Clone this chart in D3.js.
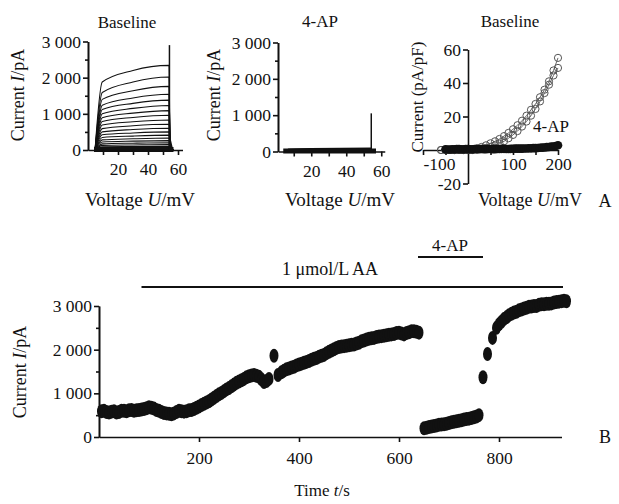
<!DOCTYPE html>
<html>
<head>
<meta charset="utf-8">
<script src="https://cdn.jsdelivr.net/npm/d3@7"></script>
<style>
  body { margin: 0; background: #fff; }
  svg text { font-family: "Liberation Serif", "Times New Roman", serif; fill: #111; }
  .axis path, .axis line { stroke: #111; stroke-width: 1.6; }
  .axis text { font-size: 17.5px; }
</style>
</head>
<body>
<svg id="chart"></svg>
<script>
// Panel A, traces at baseline: value at knee, at 30 mV and at end of step (pA)
var baseKnee = [1880, 1590, 1400, 1240, 1120, 1000, 890, 790, 690, 590, 500, 420, 345, 280, 220, 170, 128, 90, 60, 34, 17];
var baseMid  = [2200, 1880, 1640, 1440, 1290, 1150, 1020, 900, 780, 670, 565, 470, 385, 310, 245, 188, 140, 98, 65, 37, 18];
var baseEnd  = [2340, 2020, 1760, 1540, 1380, 1230, 1090, 960, 830, 710, 600, 500, 410, 330, 260, 200, 150, 105, 70, 40, 20];
var baseSpike = 2900;

// Panel A, traces with 4-AP
var apLevel = [85, 70, 55, 45, 35, 25, 15, 8];
var apSpike = 1050;

// Panel A, I-V curves (pA/pF)
var ivVolt  = [-60, -50, -40, -30, -20, -10, 0, 10, 20, 30, 40, 50, 60, 70, 80, 90, 100, 110, 120, 130, 140, 150, 160, 170, 180, 190, 200];
var ivBase1 = [0, 0, 0, 0, 0, 0, 0, 0.3, 1, 1.8, 2.8, 4, 5.2, 6.6, 8.3, 10.2, 12.4, 14.8, 17.5, 20.5, 24, 27.5, 31.5, 36, 41, 47.5, 55];
var ivBase2 = [0, 0, 0, 0, 0, 0, 0, 0, 0.3, 0.6, 1.1, 1.8, 2.7, 3.8, 5.2, 7, 9, 11.3, 14, 17, 20.5, 24.5, 29, 34, 39, 44.5, 49];
var ivApVolt = [-50, -45, -40, -35, -30, -25, -20, -15, -10, -5, 0, 5, 10, 15, 20, 25, 30, 35, 40, 45, 50, 55, 60, 65, 70, 75,
  80, 85, 90, 95, 100, 105, 110, 115, 120, 125, 130, 135, 140, 145, 150, 155, 160, 165, 170, 175, 180, 185, 190, 195, 200];
var ivAp = [0.4, 0.3, 0.3, 0.4, 0.4, 0.5, 0.5, 0.4, 0.4, 0.5, 0.5, 0.4, 0.4, 0.5, 0.5, 0.5, 0.6, 0.5, 0.5, 0.6, 0.6, 0.5, 0.5, 0.6, 0.6, 0.7,
  0.7, 0.6, 0.6, 0.7, 0.7, 0.8, 0.8, 0.8, 0.8, 0.9, 0.9, 1.0, 1.0, 1.1, 1.1, 1.2, 1.3, 1.4, 1.5, 1.7, 1.8, 2.0, 2.1, 2.4, 2.8];

// Panel B, time course (s, pA): control + AA, during 4-AP, washout of 4-AP
var aaTime = [5, 10, 15, 20, 25, 30, 35, 40, 45, 50, 55, 60, 65, 70, 75, 80, 85, 90, 95, 100,
  105, 110, 115, 120, 125, 130, 135, 140, 145, 150, 155, 160, 165, 170, 175, 180, 185, 190, 195, 200,
  205, 210, 215, 220, 225, 230, 235, 240, 245, 250, 255, 260, 265, 270, 275, 280, 285, 290, 295, 300,
  305, 310, 315, 320, 325, 330, 335, 340, 350, 358, 365, 370, 375, 380, 385, 390, 395, 400,
  405, 410, 415, 420, 425, 430, 435, 440, 445, 450, 455, 460, 465, 470, 475, 480, 485, 490, 495, 500,
  505, 510, 515, 520, 525, 530, 535, 540, 545, 550, 555, 560, 565, 570, 575, 580, 585, 590, 595, 600,
  605, 610, 615, 620, 625, 630, 635, 640];
var aaCurrent = [590, 600, 570, 560, 580, 590, 560, 570, 600, 600, 590, 610, 620, 600, 610, 620, 630, 640, 660, 680,
  670, 650, 620, 600, 570, 550, 540, 530, 520, 540, 570, 600, 590, 580, 590, 610, 620, 640, 670, 700,
  730, 760, 790, 820, 860, 900, 940, 980, 1010, 1050, 1090, 1120, 1160, 1200, 1240, 1270, 1300, 1330, 1370, 1390,
  1410, 1420, 1400, 1380, 1320, 1260, 1280, 1330, 1860, 1420, 1480, 1520, 1550, 1570, 1590, 1610, 1640, 1660,
  1680, 1700, 1720, 1740, 1770, 1790, 1810, 1840, 1860, 1880, 1920, 1950, 1980, 2010, 2040, 2060, 2070, 2080, 2090, 2100,
  2110, 2120, 2140, 2160, 2190, 2210, 2230, 2250, 2260, 2270, 2290, 2300, 2310, 2320, 2330, 2340, 2350, 2360, 2380, 2390,
  2370, 2350, 2380, 2400, 2420, 2420, 2410, 2390];
var apTime = [650, 655, 660, 665, 670, 675, 680, 685, 690, 695, 700, 705, 710, 715, 720, 725, 730, 735, 740, 745, 750, 755, 760];
var apCurrent = [200, 210, 230, 240, 250, 265, 280, 285, 290, 305, 320, 335, 350, 360, 370, 385, 400, 410, 420, 435, 450, 470, 500];
var washTime = [768, 777, 787, 795, 800, 805, 810, 815, 820, 825, 830, 835, 840, 845, 850, 855, 860, 865, 870, 875,
  880, 885, 890, 895, 900, 905, 910, 915, 920, 925, 930, 935];
var washCurrent = [1370, 1900, 2270, 2500, 2580, 2640, 2700, 2740, 2790, 2820, 2850, 2870, 2900, 2920, 2940, 2960, 2980, 2990, 3000, 3000,
  3030, 3040, 3040, 3050, 3050, 3060, 3080, 3090, 3100, 3110, 3120, 3110];

var aaBar = [85, 928];
var apBar = [638, 768];

var width = 619, height = 504;
var svg = d3.select("#chart").attr("width", width).attr("height", height);

var spaceFmt = function(v) { return v >= 1000 ? d3.format(",")(v).replace(",", " ") : v; };

// y axis with major + minor ticks
function yAxis(y, x0, majors, minors) {
  svg.append("g").attr("class", "axis").attr("transform", "translate(" + x0 + ",0)")
    .call(d3.axisLeft(y).tickValues(minors).tickSize(3).tickFormat("").tickSizeOuter(0));
  svg.append("g").attr("class", "axis").attr("transform", "translate(" + x0 + ",0)")
    .call(d3.axisLeft(y).tickValues(majors).tickSize(5).tickPadding(2).tickFormat(spaceFmt).tickSizeOuter(0));
}
function xAxis(x, y0, ticks, labels, pad) {
  return svg.append("g").attr("class", "axis").attr("transform", "translate(0," + y0 + ")")
    .call(d3.axisBottom(x).tickValues(ticks).tickSize(5).tickPadding(pad)
      .tickFormat(function(d) { return labels.indexOf(d) >= 0 ? d : ""; }).tickSizeOuter(0));
}

// ---------- A1 : baseline traces ----------
var xA1 = d3.scaleLinear().domain([0, 63]).range([88, 182.5]);
var yA1 = d3.scaleLinear().domain([0, 3000]).range([150, 41.5]);
var trace = d3.line().x(d => xA1(d[0])).y(d => yA1(d[1])).curve(d3.curveMonotoneX);

baseEnd.forEach(function(e, i) {
  var pts = [[4.7, 0], [9.5, baseKnee[i]], [30, baseMid[i]], [54, e], [54.7, 0], [57, 0]];
  svg.append("path").attr("d", trace(pts)).attr("fill", "none").attr("stroke", "#111").attr("stroke-width", 1.1);
});
svg.append("line").attr("x1", xA1(4)).attr("x2", xA1(57)).attr("y1", yA1(15)).attr("y2", yA1(15))
  .attr("stroke", "#111").attr("stroke-width", 5);
svg.append("line").attr("x1", xA1(54.3)).attr("x2", xA1(54.3)).attr("y1", yA1(0)).attr("y2", yA1(baseSpike))
  .attr("stroke", "#111").attr("stroke-width", 1.5);
svg.append("path").attr("d", d3.area().x(d => xA1(d[0])).y0(yA1(0)).y1(d => yA1(d[1]))([[53.8, 0], [54.3, 1600], [55.2, 300], [56.5, 60], [57, 0]]))
  .attr("fill", "#111");

yAxis(yA1, 88, [0, 1000, 2000, 3000], [500, 1500, 2500]);
xAxis(xA1, 150, [10, 20, 30, 40, 50, 60], [20, 40, 60], 8);

// ---------- A2 : 4-AP traces ----------
var xA2 = d3.scaleLinear().domain([1, 62]).range([278, 384.75]);
var yA2 = d3.scaleLinear().domain([0, 3000]).range([151.5, 42.5]);
var trace2 = d3.line().x(d => xA2(d[0])).y(d => yA2(d[1]));
apLevel.forEach(function(a) {
  var pts = [[4.7, 0], [7, a * 0.8], [20, a * 0.95], [54, a * 1.1], [54.7, 0], [57, 0]];
  svg.append("path").attr("d", trace2(pts)).attr("fill", "none").attr("stroke", "#111").attr("stroke-width", 1.1);
});
svg.append("line").attr("x1", xA2(4)).attr("x2", xA2(57)).attr("y1", yA2(15)).attr("y2", yA2(15))
  .attr("stroke", "#111").attr("stroke-width", 5);
svg.append("line").attr("x1", xA2(54.3)).attr("x2", xA2(54.3)).attr("y1", yA2(0)).attr("y2", yA2(apSpike))
  .attr("stroke", "#111").attr("stroke-width", 1.5);

yAxis(yA2, 278, [0, 1000, 2000, 3000], [500, 1500, 2500]);
xAxis(xA2, 151.5, [10, 20, 30, 40, 50, 60], [20, 40, 60], 8);

// ---------- A3 : I-V ----------
var xA3 = d3.scaleLinear().domain([-100, 200]).range([423, 558]);
var yA3 = d3.scaleLinear().domain([-20, 60]).range([183.5, 49.5]);

var xa3 = xAxis(xA3, yA3(0), [-100, -50, 50, 100, 150, 200], [-100, 100, 200], 3);
xa3.selectAll(".tick text").attr("text-anchor", d => d === -100 ? "start" : "middle");
svg.append("g").attr("class", "axis").attr("transform", "translate(" + xA3(0) + ",0)")
  .call(d3.axisLeft(yA3).tickValues([-20, 0, 20, 40, 60]).tickSize(5).tickPadding(2)
    .tickFormat(d => d === 0 ? "" : d).tickSizeOuter(0));

var ivLine = d3.line().x(d => xA3(d[0])).y(d => yA3(d[1]));
[ivBase1, ivBase2].forEach(function(s) {
  var pts = ivVolt.map((v, i) => [v, s[i]]);
  svg.append("path").attr("d", ivLine(pts)).attr("fill", "none").attr("stroke", "#666").attr("stroke-width", 1);
  svg.append("g").selectAll("circle").data(pts).enter().append("circle")
    .attr("cx", d => xA3(d[0])).attr("cy", d => yA3(d[1])).attr("r", 3.6)
    .attr("fill", "none").attr("stroke", "#555").attr("stroke-width", 1);
});
svg.append("g").selectAll("circle").data(ivApVolt.map((v, i) => [v, ivAp[i]])).enter().append("circle")
  .attr("cx", d => xA3(d[0])).attr("cy", d => yA3(d[1])).attr("r", 4.3).attr("fill", "#111");

// ---------- B : time course ----------
var xB = d3.scaleLinear().domain([0, 925]).range([99, 561.5]);
var yB = d3.scaleLinear().domain([0, 3000]).range([437, 306]);

var pointsB = []
  .concat(aaTime.map((t, i) => [t, aaCurrent[i]]))
  .concat(apTime.map((t, i) => [t, apCurrent[i]]))
  .concat(washTime.map((t, i) => [t, washCurrent[i]]));
svg.append("g").selectAll("ellipse").data(pointsB).enter().append("ellipse")
  .attr("cx", d => xB(d[0])).attr("cy", d => yB(d[1])).attr("rx", 4.5).attr("ry", 7).attr("fill", "#111");

yAxis(yB, 99, [0, 1000, 2000, 3000], [500, 1500, 2500]);
xAxis(xB, 437, [200, 400, 600, 800], [200, 400, 600, 800], 10);

svg.append("line").attr("x1", xB(aaBar[0])).attr("x2", xB(aaBar[1])).attr("y1", 287).attr("y2", 287)
  .attr("stroke", "#111").attr("stroke-width", 2);
svg.append("line").attr("x1", xB(apBar[0])).attr("x2", xB(apBar[1])).attr("y1", 257).attr("y2", 257)
  .attr("stroke", "#111").attr("stroke-width", 2);

// ---------- texts ----------
function label(x, y, txt, opts) {
  opts = opts || {};
  var t = svg.append("text").attr("x", x).attr("y", y).attr("text-anchor", opts.anchor || "middle")
    .style("font-size", (opts.size || 17) + "px");
  if (opts.rotate) t.attr("transform", "rotate(-90," + x + "," + y + ")");
  txt.forEach(function(p) {
    var s = t.append("tspan").text(p[0]);
    if (p[1]) s.style("font-style", "italic");
  });
  return t;
}
label(127, 28, [["Baseline"]]);
label(320, 27, [["4-AP"]]);
label(510, 27, [["Baseline"]]);
label(140, 206, [["Voltage "], ["U", 1], ["/mV"]], { size: 19 });
label(340, 206, [["Voltage "], ["U", 1], ["/mV"]], { size: 19 });
label(530, 206, [["Voltage "], ["U", 1], ["/mV"]], { size: 18 });
label(605, 207, [["A"]], { size: 18 });
label(24, 95, [["Current "], ["I", 1], ["/pA"]], { size: 18, rotate: true });
label(220, 95, [["Current "], ["I", 1], ["/pA"]], { size: 18, rotate: true });
label(423, 97, [["Current (pA/pF)"]], { size: 17, rotate: true });
label(533, 132, [["4-AP"]], { anchor: "start", size: 17 });
label(330, 275, [["1 μmol/L AA"]], { size: 18 });
label(450, 251, [["4-AP"]]);
label(322, 496, [["Time "], ["t", 1], ["/s"]], { size: 17 });
label(605, 443, [["B"]], { size: 18 });
label(26, 372, [["Current "], ["I", 1], ["/pA"]], { size: 18, rotate: true });
</script>
</body>
</html>
